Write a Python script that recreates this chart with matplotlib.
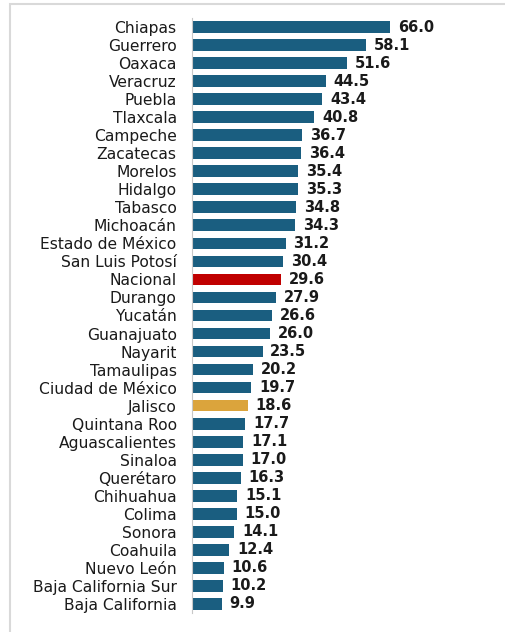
import matplotlib.pyplot as plt
from matplotlib.patches import Rectangle

states = ["Chiapas", "Guerrero", "Oaxaca", "Veracruz", "Puebla", "Tlaxcala",
          "Campeche", "Zacatecas", "Morelos", "Hidalgo", "Tabasco", "Michoacán",
          "Estado de México", "San Luis Potosí", "Nacional", "Durango", "Yucatán",
          "Guanajuato", "Nayarit", "Tamaulipas", "Ciudad de México", "Jalisco",
          "Quintana Roo", "Aguascalientes", "Sinaloa", "Querétaro", "Chihuahua",
          "Colima", "Sonora", "Coahuila", "Nuevo León", "Baja California Sur",
          "Baja California"]
values = [66.0, 58.1, 51.6, 44.5, 43.4, 40.8, 36.7, 36.4, 35.4, 35.3, 34.8, 34.3,
          31.2, 30.4, 29.6, 27.9, 26.6, 26.0, 23.5, 20.2, 19.7, 18.6, 17.7, 17.1,
          17.0, 16.3, 15.1, 15.0, 14.1, 12.4, 10.6, 10.2, 9.9]

plt.rcParams['font.family'] = ['DejaVu Sans']

colors = []
for s in states:
    if s == "Nacional":
        colors.append("#c00000")
    elif s == "Jalisco":
        colors.append("#dba43c")
    else:
        colors.append("#1a5e80")

n = len(states)
fig = plt.figure(figsize=(5.05, 6.32), dpi=100)

# light grey frame around the chart
fig.patches.append(Rectangle((10 / 505, -0.1), 1.2, 1 - 4 / 632 + 0.1,
                             transform=fig.transFigure, fill=False,
                             edgecolor="#d9d9d9", linewidth=1.5))

row = 18.03
top = 27 - row / 2
height = n * row
ax = fig.add_axes([192 / 505, 1 - (top + height) / 632, 300 / 505, height / 632])

ypos = list(range(n))[::-1]
ax.barh(ypos, values, height=0.65, color=colors)
ax.set_ylim(-0.5, n - 0.5)
ax.set_xlim(0, 100)

for y, v in zip(ypos, values):
    ax.text(v + 2.6, y, f"{v:.1f}", va="center", ha="left",
            fontsize=10.5, fontweight="bold", color="#1a1a1a")

ax.set_yticks(ypos)
ax.set_yticklabels(states, fontsize=11.2, color="#1a1a1a")
ax.tick_params(axis="y", length=0, pad=11)
ax.set_xticks([])
for side in ["top", "right", "bottom"]:
    ax.spines[side].set_visible(False)
ax.spines["left"].set_color("#c8c8c8")
ax.patch.set_alpha(0)

plt.savefig("out.png", dpi=100)
plt.close()
